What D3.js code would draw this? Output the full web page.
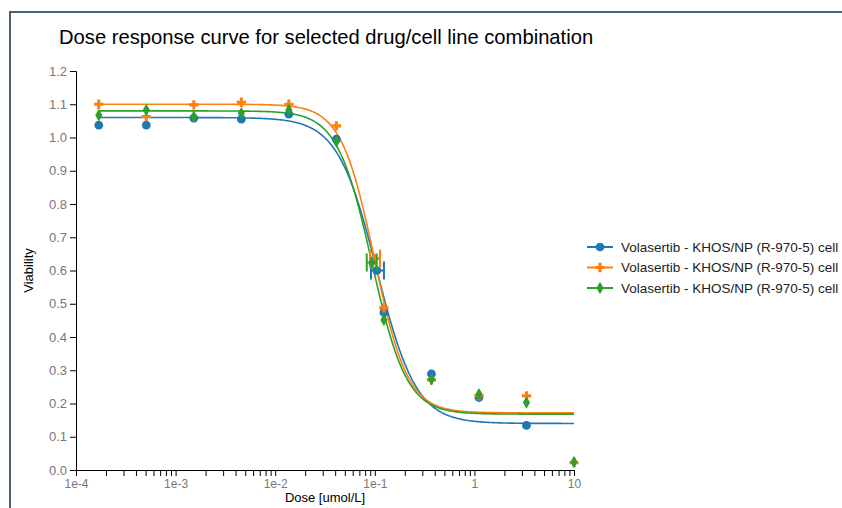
<!DOCTYPE html>
<html>
<head>
<meta charset="utf-8">
<script src="https://cdn.jsdelivr.net/npm/d3@7"></script>
<style>
  html, body { margin: 0; padding: 0; background: #fff; }
  svg { display: block; font-family: "Liberation Sans", Arial, sans-serif; }
</style>
</head>
<body>
<svg id="chart" width="842" height="508"></svg>
<script>
// ---- data ----
const title = "Dose response curve for selected drug/cell line combination";
const seriesNames = ["Volasertib - KHOS/NP (R-970-5) cell", "Volasertib - KHOS/NP (R-970-5) cell", "Volasertib - KHOS/NP (R-970-5) cell"];
const doses = [1.6935e-4, 5.0805e-4, 1.5242e-3, 4.5725e-3, 1.3717e-2, 4.1152e-2, 0.12346, 0.37037, 1.1111, 3.3333, 10];
const viabilityA = [1.037, 1.037, 1.058, 1.055, 1.070, 0.995, 0.474, 0.289, 0.218, 0.134, null];
const viabilityB = [1.100, 1.063, 1.098, 1.106, 1.100, 1.035, 0.488, 0.271, 0.224, 0.223, 0.022];
const viabilityC = [1.067, 1.083, 1.063, 1.073, 1.083, 0.987, 0.451, 0.273, 0.228, 0.203, 0.024];
// fitted 4-parameter logistic curves
const fitTop = [1.06, 1.10, 1.08];
const fitBottom = [0.14, 0.172, 0.168];
const fitIC50 = [0.105, 0.099, 0.0935];
const fitHill = [2.2, 2.6, 2.5];
const ic50Low = [0.0916, 0.0895, 0.083];
const ic50High = [0.1236, 0.1127, 0.1045];
const xTickValues = [1e-4, 1e-3, 1e-2, 1e-1, 1, 10];
const xTickLabels = ["1e-4", "1e-3", "1e-2", "1e-1", "1", "10"];
const yTickValues = [0, 0.1, 0.2, 0.3, 0.4, 0.5, 0.6, 0.7, 0.8, 0.9, 1.0, 1.1, 1.2];
const xLabel = "Dose [umol/L]";
const yLabel = "Viability";

// ---- style ----
const colors = ["#1f77b4", "#ff7f0e", "#2ca02c"];
const symbols = [d3.symbolCircle, d3.symbolCross, d3.symbolDiamond];
const symbolSizes = [60, 48, 44];
const values = [viabilityA, viabilityB, viabilityC];

const svg = d3.select("#chart");

// frame
svg.append("rect").attr("x", 9).attr("y", 11).attr("width", 842).attr("height", 2).attr("fill", "#4f6075");
svg.append("rect").attr("x", 9).attr("y", 11).attr("width", 2).attr("height", 508).attr("fill", "#4f6075");

// title
svg.append("text").attr("x", 59).attr("y", 44).attr("font-size", 20.2).attr("fill", "#000").text(title);

const x = d3.scaleLog().domain([1e-4, 10]).range([76, 574]);
const y = d3.scaleLinear().domain([0, 1.2]).range([470, 71]);

// x axis
const minorTicks = [];
for (let e = -4; e < 1; e++) for (let m = 1; m <= 9; m++) minorTicks.push(m * Math.pow(10, e));
minorTicks.push(10);
const xAxisG = svg.append("g").attr("transform", "translate(0,470)")
  .call(d3.axisBottom(x).tickValues(minorTicks).tickSizeOuter(0).tickSize(6).tickFormat(d => {
    const i = xTickValues.findIndex(v => Math.abs(v - d) / v < 1e-6);
    return i >= 0 ? xTickLabels[i] : "";
  }));
xAxisG.select(".domain").attr("stroke", "#000");
xAxisG.selectAll(".tick line").attr("stroke", "#000");
xAxisG.selectAll(".tick text").attr("fill", "#777").attr("font-size", 12).attr("font-family", null);

// y axis
const yAxisG = svg.append("g").attr("transform", "translate(76,0)")
  .call(d3.axisLeft(y).tickValues(yTickValues).tickSizeOuter(0).tickSize(6).tickFormat(d3.format(".1f")));
yAxisG.select(".domain").attr("stroke", "#000");
yAxisG.selectAll(".tick line").attr("stroke", "#000");
yAxisG.selectAll(".tick text").attr("fill", "#777").attr("font-size", 13).attr("font-family", null);

// axis labels
svg.append("text").attr("x", 325).attr("y", 502).attr("text-anchor", "middle").attr("font-size", 13).attr("fill", "#000").text(xLabel);
svg.append("text").attr("transform", "translate(33,270.5) rotate(-90)").attr("text-anchor", "middle").attr("font-size", 13).attr("fill", "#000").text(yLabel);

// curves
const line = d3.line().x(d => x(d[0])).y(d => y(d[1]));
const logMin = Math.log10(doses[0]), logMax = Math.log10(doses[doses.length - 1]);
for (let s = 0; s < 3; s++) {
  const pts = [];
  for (let i = 0; i <= 300; i++) {
    const xv = Math.pow(10, logMin + (logMax - logMin) * i / 300);
    const yv = fitBottom[s] + (fitTop[s] - fitBottom[s]) / (1 + Math.pow(xv / fitIC50[s], fitHill[s]));
    pts.push([xv, yv]);
  }
  svg.append("path").datum(pts).attr("d", line).attr("fill", "none").attr("stroke", colors[s]).attr("stroke-width", 1.6);
}

// points and IC50 markers
for (let s = 0; s < 3; s++) {
  const g = svg.append("g");
  const data = doses.map((d, i) => [d, values[s][i]]).filter(d => d[1] != null);
  g.selectAll("path.pt").data(data).enter().append("path")
    .attr("transform", d => `translate(${x(d[0])},${y(d[1])})`)
    .attr("d", d3.symbol().type(symbols[s]).size(symbolSizes[s]))
    .attr("fill", colors[s]);
  // IC50 with confidence interval
  const mid = (fitTop[s] + fitBottom[s]) / 2;
  const cy = y(mid);
  g.append("line").attr("x1", x(ic50Low[s])).attr("x2", x(ic50High[s])).attr("y1", cy).attr("y2", cy).attr("stroke", colors[s]).attr("stroke-width", 2);
  [ic50Low[s], ic50High[s]].forEach(v => {
    g.append("line").attr("x1", x(v)).attr("x2", x(v)).attr("y1", cy - 9).attr("y2", cy + 9).attr("stroke", colors[s]).attr("stroke-width", 2);
  });
  g.append("path").attr("transform", `translate(${x(fitIC50[s])},${cy})`)
    .attr("d", d3.symbol().type(symbols[s]).size(symbolSizes[s])).attr("fill", colors[s]);
}

// legend
const legend = svg.append("g");
seriesNames.forEach((name, s) => {
  const ly = 247 + s * 20.5;
  legend.append("line").attr("x1", 587).attr("x2", 613).attr("y1", ly).attr("y2", ly).attr("stroke", colors[s]).attr("stroke-width", 2);
  legend.append("path").attr("transform", `translate(600,${ly})`).attr("d", d3.symbol().type(symbols[s]).size(symbolSizes[s])).attr("fill", colors[s]);
  legend.append("text").attr("x", 621).attr("y", ly).attr("dy", "0.35em").attr("font-size", 13.5).attr("fill", "#222").text(name);
});
</script>
</body>
</html>
